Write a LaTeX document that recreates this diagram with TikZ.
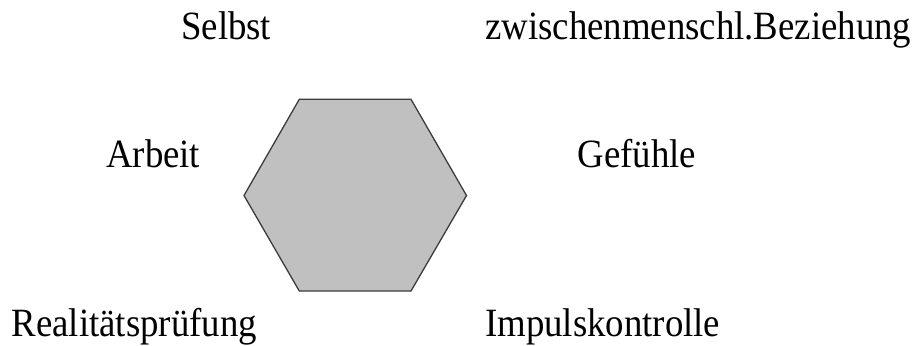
\documentclass[tikz,border=0pt]{standalone}
\usepackage{fontspec}
\usepackage{graphicx}
\setmainfont{Liberation Serif}
\definecolor{hexfill}{RGB}{192,192,192}
\definecolor{hexline}{RGB}{60,60,60}
% labels are set slightly taller than wide
\newcommand{\tallword}[1]{\scalebox{1}[1.09]{#1}}
\begin{document}
\begin{tikzpicture}[x=1pt,y=1pt,
  label/.style={anchor=base west, inner sep=0pt, font=\fontsize{36.8}{44}\selectfont},
  hexa/.style={fill=hexfill, draw=hexline, line width=1.3pt, line join=miter}]
\useasboundingbox (0,0) rectangle (917,-345);
% hexagon corners
\coordinate (h1) at (299.3,-99.3);
\coordinate (h2) at (411,-99.3);
\coordinate (h3) at (466.5,-195.5);
\coordinate (h4) at (411,-291);
\coordinate (h5) at (299.3,-291);
\coordinate (h6) at (244,-195.5);
\draw[hexa] (h1) -- (h2) -- (h3) -- (h4) -- (h5) -- (h6) -- cycle;
% labels around the hexagon
\node[label] (selbst) at (181,-40) {\tallword{Selbst}};
\node[label] (bez) at (485,-39.5) {\tallword{zwischenmenschl.Beziehung}};
\node[label] (arbeit) at (106,-167.3) {\tallword{Arbeit}};
\node[label] (gef) at (577.3,-167.3) {\tallword{Gefühle}};
\node[label] (real) at (11.5,-336.5) {\tallword{Realitätsprüfung}};
\node[label] (impuls) at (485,-336.5) {\tallword{Impulskontrolle}};
\end{tikzpicture}
\end{document}
